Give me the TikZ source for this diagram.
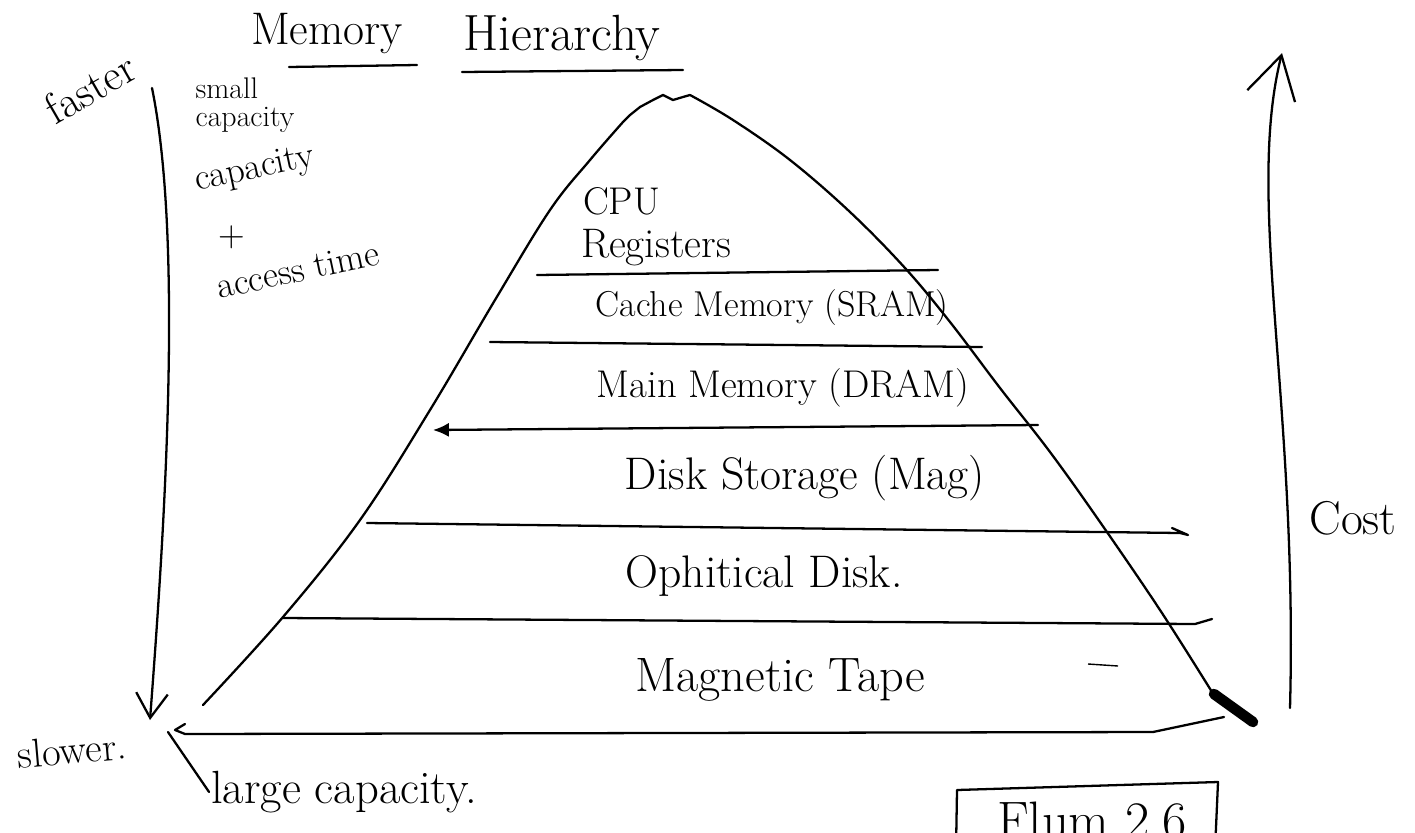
\documentclass[tikz,border=0pt]{standalone}
\usepackage{tikz}
\usetikzlibrary{arrows.meta}
\tikzstyle{pen} = [line width=1.3pt, line cap=round, line join=round]
\tikzstyle{arrow} = [pen, -{Straight Barb[length=14pt,width=18pt]}]
\tikzstyle{layer} = [font=\fontsize{22}{24}\selectfont, inner sep=1pt]
\tikzstyle{note} = [font=\fontsize{21}{23}\selectfont, align=center, inner sep=1pt]
\tikzstyle{heading} = [font=\fontsize{24}{26}\selectfont, inner sep=1pt]

\begin{document}
\begin{tikzpicture}[x=0.02cm, y=-0.02cm]
        \useasboundingbox (0,0) rectangle (1415,832);
        \clip (0,0) rectangle (1415,832);

        % Title
        \node (mem) [heading, font=\fontsize{26}{28}\selectfont] at (327,34) {Memory};
        \node (hier) [heading, font=\fontsize{29}{31}\selectfont] at (562,38) {Hierarchy};
        \draw [pen] (289,67) -- (417,65);
        \draw [pen] (462,72) -- (683,70);

        % Pyramid
        \draw [pen] plot [smooth, tension=0.6] coordinates {(203,705) (283,617) (360,520) (430,410) (495,300) (550,210) (590,160) (623,122)}
            -- (630,115) -- (640,107) -- (653,100) -- (663,95) -- (673,100) -- (683,97) -- (690,95)
            plot [smooth, tension=0.6] coordinates {(690,95) (733,120) (790,160) (850,212) (905,268) (950,322) (1000,388) (1050,452) (1100,522) (1160,610) (1212,692)};
        \draw [line width=6pt, line cap=round] (1214,694) -- (1253,722);

        % Layers
        \draw [pen] (537,275) -- (938,270);
        \draw [pen] (490,342) -- (982,347);
        \draw [pen, {Latex[length=9pt,width=8pt]}-] (433,430) -- (1038,425);
        \draw [pen] (367,523) -- (1180,533) -- (1188,535) -- (1172,528);
        \draw [pen] (283,618) -- (1195,624) -- (1212,619);
        \draw [pen] (185,724) -- (175,730) -- (185,734) -- (1153,732) -- (1224,717);
        \draw [line width=0.8pt] (1088,664) -- (1118,666);

        \node (cpu) [layer, anchor=west] at (581,201) {CPU};
        \node (reg) [layer, font=\fontsize{23.5}{25}\selectfont, anchor=west] at (579,248) {Registers};
        \node (cache) [layer, font=\fontsize{20.5}{22}\selectfont] at (772,308) {Cache Memory (SRAM)};
        \node (main) [layer, font=\fontsize{22}{24}\selectfont] at (783,388) {Main Memory (DRAM)};
        \node (disk) [layer, font=\fontsize{26}{28}\selectfont] at (805,478) {Disk Storage (Mag)};
        \node (optic) [layer, font=\fontsize{26}{28}\selectfont] at (764,576) {Ophitical Disk.};
        \node (tape) [layer, font=\fontsize{27.5}{30}\selectfont] at (780,680) {Magnetic Tape};

        % Left side
        \node (faster) [note, font=\fontsize{25}{27}\selectfont, rotate=30] at (90,88) {faster};
        \node (slower) [note, font=\fontsize{23}{25}\selectfont, rotate=5] at (72,750) {slower.};
        \node (small) [note, font=\fontsize{17}{16}\selectfont, align=left] at (245,105) {small\\capacity};
        \node (capa) [note, rotate=12] at (255,170) {capacity};
        \node (plus) [note] at (232,237) {+};
        \node (access) [note, rotate=12] at (298,270) {access time};
        \node (large) [note, font=\fontsize{26.5}{28}\selectfont] at (344,792) {large capacity.};
        \coordinate (ftop) at (152,88);
        \coordinate (fbot) at (150,720);
        \coordinate (lbase) at (168,732);

        % Right side
        \node (cost) [note, font=\fontsize{27}{29}\selectfont] at (1353,518) {Cost};
        \coordinate (cbot) at (1290,708);
        \coordinate (ctop) at (1282,53);

        % Box
        \draw [pen] (956,850) -- (957,790) -- (1218,782) -- (1215,850);
        \node (fig) [note, font=\fontsize{30}{32}\selectfont, anchor=north west] at (995,800) {Flum 2.6};

        % Arrows
        \draw [arrow] (ftop) .. controls (185,250) and (162,560) .. (fbot);
        \draw [arrow, -{Straight Barb[length=24pt,width=28pt]}] (cbot) .. controls (1298,400) and (1245,200) .. (ctop);
        \draw [pen] (lbase) -- (large.west);
    \end{tikzpicture}
\end{document}
